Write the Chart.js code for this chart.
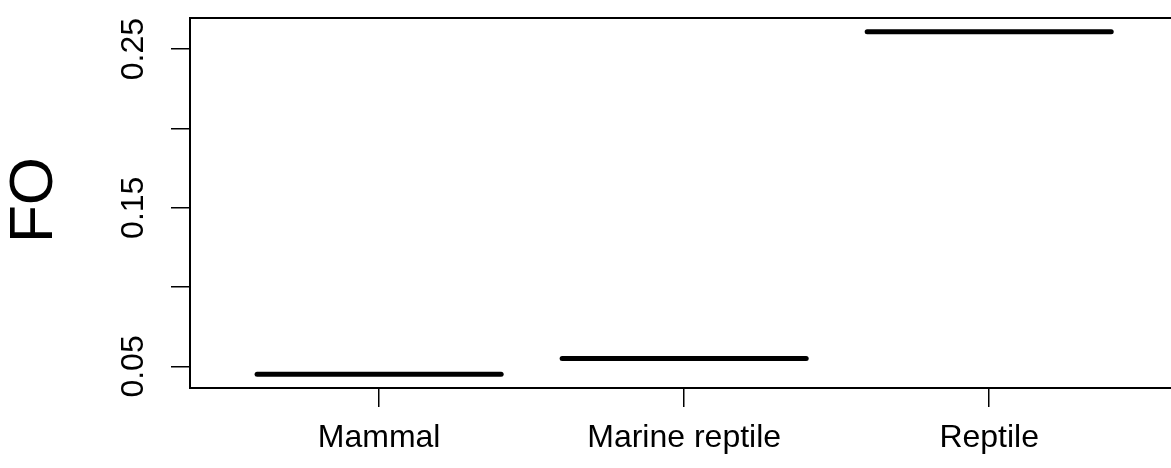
<!DOCTYPE html>
<html>
<head>
<meta charset="utf-8">
<script src="https://cdn.jsdelivr.net/npm/chart.js@4"></script>
<style>
  html, body { margin: 0; padding: 0; background: #fff; }
</style>
</head>
<body>
<canvas id="foChart" width="1171" height="468"></canvas>
<script>
const groups = ["Mammal", "Marine reptile", "Reptile"];
const positions = [1, 2, 3];
const medians = [0.045, 0.055, 0.261];
const yTicks = [0.05, 0.10, 0.15, 0.20, 0.25];
const yTickLabels = ["0.05", "", "0.15", "", "0.25"];
const yTitle = "FO";

const font = '"Liberation Sans", Arial, Helvetica, sans-serif';

// frame + all the text, R style
const basePlot = {
  id: "basePlot",
  beforeDatasetsDraw(chart) {
    chart.ctx.lineCap = "round";
  },
  afterDraw(chart) {
    const { ctx, chartArea: a, scales } = chart;
    ctx.save();
    ctx.strokeStyle = "#000";
    ctx.lineWidth = 2;
    // right side of the box is cut off by the picture edge
    ctx.beginPath();
    ctx.moveTo(a.right + 5, a.top);
    ctx.lineTo(a.left, a.top);
    ctx.lineTo(a.left, a.bottom);
    ctx.lineTo(a.right + 5, a.bottom);
    ctx.stroke();

    ctx.fillStyle = "#000";
    ctx.font = "32px " + font;
    ctx.textAlign = "center";
    ctx.textBaseline = "alphabetic";
    positions.forEach((p, i) => {
      ctx.fillText(groups[i], scales.x.getPixelForValue(p), 447);
    });

    yTicks.forEach((v, i) => {
      if (!yTickLabels[i]) return;
      ctx.save();
      ctx.translate(143, scales.y.getPixelForValue(v));
      ctx.rotate(-Math.PI / 2);
      ctx.fillText(yTickLabels[i], 0, 0);
      ctx.restore();
    });

    ctx.font = "62px " + font;
    ctx.translate(52, (a.top + a.bottom) / 2 - 3);
    ctx.rotate(-Math.PI / 2);
    ctx.fillText(yTitle, 0, 0);
    ctx.restore();
  },
};

const tickGrid = {
  display: true,
  drawOnChartArea: false,
  drawTicks: true,
  tickLength: 19,
  color: "#000",
  lineWidth: 1.5,
};

new Chart(document.getElementById("foChart"), {
  type: "scatter",
  data: {
    datasets: [
      {
        data: positions.map((x, i) => ({ x, y: medians[i] })),
        pointStyle: "line",
        pointRadius: (ctx) => {
          const s = ctx.chart.scales.x;
          return 0.4 * (s.getPixelForValue(1) - s.getPixelForValue(0));
        },
        pointBorderWidth: 5,
        borderColor: "#000",
        backgroundColor: "#000",
      },
    ],
  },
  options: {
    responsive: false,
    animation: false,
    events: [],
    layout: { padding: { top: 18, right: 0, left: 0, bottom: 0 } },
    plugins: { legend: { display: false }, tooltip: { enabled: false } },
    scales: {
      x: {
        type: "linear",
        min: 0.38,
        max: 3.596,
        afterBuildTicks: (s) => { s.ticks = positions.map((v) => ({ value: v })); },
        afterFit: (s) => { s.height = 80; },
        ticks: { display: false },
        grid: tickGrid,
        border: { display: false },
      },
      y: {
        type: "linear",
        min: 0.0364,
        max: 0.2696,
        afterBuildTicks: (s) => { s.ticks = yTicks.map((v) => ({ value: v })); },
        afterFit: (s) => { s.width = 190; },
        ticks: { display: false },
        grid: tickGrid,
        border: { display: false },
      },
    },
  },
  plugins: [basePlot],
});
</script>
</body>
</html>
